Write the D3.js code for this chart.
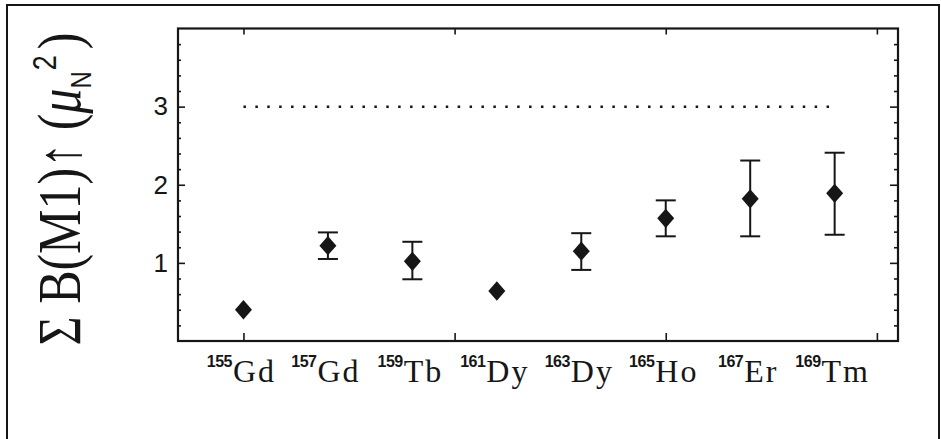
<!DOCTYPE html>
<html>
<head>
<meta charset="utf-8">
<script src="https://cdn.jsdelivr.net/npm/d3@7"></script>
<style>
  html, body { margin: 0; padding: 0; background: #fff; }
  svg { display: block; }
</style>
</head>
<body>
<svg id="chart"></svg>
<script>
// nuclides along the x axis (mass number A, element)
const massNumbers = [155, 157, 159, 161, 163, 165, 167, 169];
const elements = ["Gd", "Gd", "Tb", "Dy", "Dy", "Ho", "Er", "Tm"];

// summed M1 strength and error bar ends (null = no error bar drawn)
const strength = [0.40, 1.22, 1.02, 0.64, 1.15, 1.57, 1.82, 1.89];
const errLow = [null, 1.05, 0.79, null, 0.91, 1.34, 1.34, 1.36];
const errHigh = [null, 1.39, 1.27, null, 1.38, 1.80, 2.31, 2.41];

// dotted sum-rule line
const sumRule = 3;
const sumRuleFrom = 155;
const sumRuleTo = 169;

const yTicks = [1, 2, 3];
const xTicks = [155, 160, 165, 170];

const W = 941, H = 439;
const ink = "#161616";

const svg = d3.select("#chart").attr("width", W).attr("height", H);

// outer picture border
svg.append("path")
  .attr("d", `M7,${H} V5 H939 V${H}`)
  .attr("fill", "none")
  .attr("stroke", ink)
  .attr("stroke-width", 2);

const plot = { left: 178, right: 898, top: 28.5, bottom: 341 };

const x = d3.scaleLinear().domain([153.45, 170.5]).range([plot.left, plot.right]);
const y = d3.scaleLinear().domain([0, 4]).range([plot.bottom, plot.top]);

const minor = d3.range(0.2, 4, 0.2).filter((v) => Math.abs(v - Math.round(v)) > 0.01);

function yAxis(axisFn, tx, values, size, labels) {
  const g = svg.append("g")
    .attr("transform", `translate(${tx},0)`)
    .call(axisFn(y).tickValues(values).tickSizeInner(-size).tickSizeOuter(0).tickPadding(10)
      .tickFormat(labels ? d3.format("d") : ""));
  g.select(".domain").remove();
  g.selectAll("line").attr("stroke", ink).attr("stroke-width", 1.6);
  return g;
}

yAxis(d3.axisLeft, plot.left, minor, 3, false);
const yl = yAxis(d3.axisLeft, plot.left, yTicks, 7, true);
yl.selectAll("text")
  .attr("fill", ink)
  .style("font-family", "'Liberation Sans', Arial, sans-serif")
  .style("font-size", "26px");
yAxis(d3.axisRight, plot.right, minor, 4, false);
yAxis(d3.axisRight, plot.right, yTicks, 8, false);

function xAxis(axisFn, ty, size) {
  const g = svg.append("g")
    .attr("transform", `translate(0,${ty})`)
    .call(axisFn(x).tickValues(xTicks).tickSizeInner(-size).tickSizeOuter(0).tickFormat(""));
  g.select(".domain").remove();
  g.selectAll("line").attr("stroke", ink).attr("stroke-width", 1.6);
}
xAxis(d3.axisBottom, plot.bottom, 8);
xAxis(d3.axisTop, plot.top, 6);

// plot frame
svg.append("rect")
  .attr("x", plot.left)
  .attr("y", plot.top)
  .attr("width", plot.right - plot.left)
  .attr("height", plot.bottom - plot.top)
  .attr("fill", "none")
  .attr("stroke", ink)
  .attr("stroke-width", 2.2);

// sum rule
svg.append("line")
  .attr("x1", x(sumRuleFrom))
  .attr("x2", x(sumRuleTo))
  .attr("y1", y(sumRule))
  .attr("y2", y(sumRule))
  .attr("stroke", ink)
  .attr("stroke-width", 2.5)
  .attr("stroke-dasharray", "2.5,9.4");

const points = massNumbers.map((a, i) => ({
  a, el: elements[i], v: strength[i], lo: errLow[i], hi: errHigh[i],
}));

// error bars
const bars = svg.append("g")
  .selectAll("g")
  .data(points.filter((d) => d.lo !== null))
  .join("g")
  .attr("stroke", ink)
  .attr("stroke-width", 2);

bars.append("line")
  .attr("x1", (d) => x(d.a)).attr("x2", (d) => x(d.a))
  .attr("y1", (d) => y(d.lo)).attr("y2", (d) => y(d.hi));
bars.append("line")
  .attr("x1", (d) => x(d.a) - 10).attr("x2", (d) => x(d.a) + 10)
  .attr("y1", (d) => y(d.hi)).attr("y2", (d) => y(d.hi));
bars.append("line")
  .attr("x1", (d) => x(d.a) - 10).attr("x2", (d) => x(d.a) + 10)
  .attr("y1", (d) => y(d.lo)).attr("y2", (d) => y(d.lo));

// diamonds
svg.append("g")
  .selectAll("path")
  .data(points)
  .join("path")
  .attr("d", d3.symbol(d3.symbolSquare, 160))
  .attr("transform", (d) => `translate(${x(d.a)},${y(d.v)}) scale(0.95,1.08) rotate(45)`)
  .attr("fill", ink);

// nuclide labels
const labels = svg.append("g")
  .selectAll("text")
  .data(points)
  .join("text")
  .attr("x", (d) => x(d.a) - 2)
  .attr("y", 382)
  .attr("text-anchor", "middle")
  .attr("fill", ink);
labels.append("tspan")
  .attr("dy", -15)
  .style("font-family", "'Liberation Sans', Arial, sans-serif")
  .style("font-size", "16px")
  .style("font-weight", "bold")
  .style("letter-spacing", "-0.5px")
  .text((d) => d.a);
labels.append("tspan")
  .attr("dy", 15)
  .attr("dx", 1)
  .style("font-family", "'Liberation Serif', 'Times New Roman', serif")
  .style("font-size", "32px")
  .style("letter-spacing", "2px")
  .text((d) => d.el);

// y axis title
const title = svg.append("text")
  .attr("transform", "translate(80,189) rotate(-90) scale(1,1.22)")
  .attr("text-anchor", "middle")
  .attr("fill", ink)
  .style("font-family", "'Liberation Serif', 'Times New Roman', serif")
  .style("font-size", "50px");
title.append("tspan").text("Σ B(M1)↑ (");
title.append("tspan").style("font-style", "italic").text("μ");
title.append("tspan").attr("dy", 9).style("font-size", "24px")
  .style("font-family", "'Liberation Sans', Arial, sans-serif").text("N");
title.append("tspan").attr("dy", -29).attr("dx", 1).style("font-size", "27px")
  .style("font-family", "'Liberation Sans', Arial, sans-serif").text("2");
title.append("tspan").attr("dy", 20).attr("dx", 6).text(")");
</script>
</body>
</html>
